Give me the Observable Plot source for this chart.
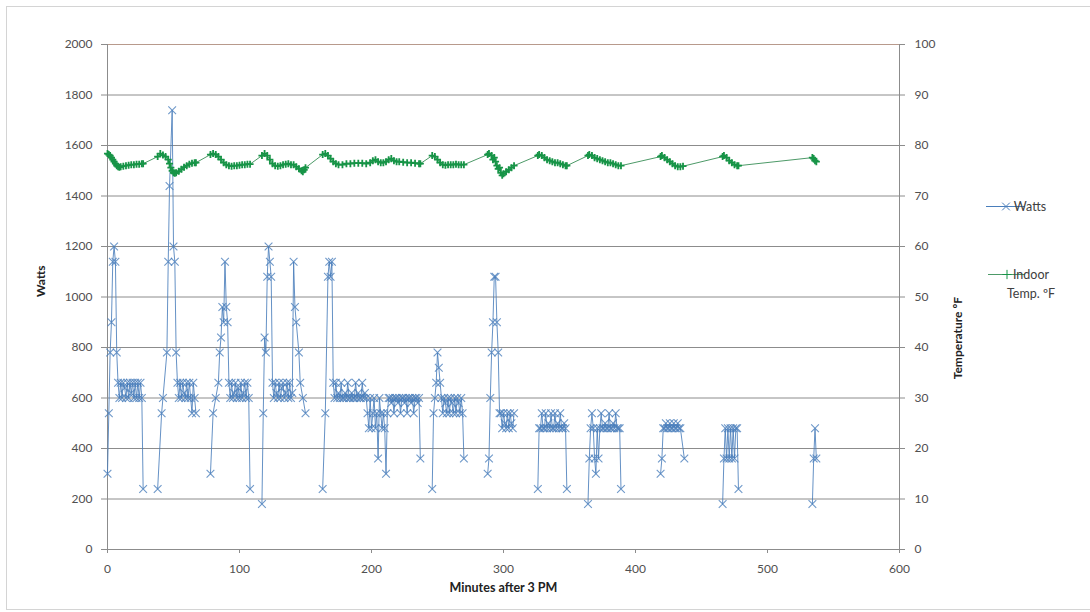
<!DOCTYPE html>
<html><head><meta charset="utf-8">
<script src="https://cdn.jsdelivr.net/npm/d3@7"></script>
<script src="https://cdn.jsdelivr.net/npm/@observablehq/plot@0.6"></script>
<style>html,body{margin:0;padding:0;background:#fff;overflow:hidden}#chart svg{display:block}</style>
</head><body><div id="chart"></div>
<script>
// ---- Data ----
const wattMinutes = [
  0,1,2,3,4,5,6,7,8,9,10,11,12,13,14,15,16,17,18,19,20,21,22,23,24,25,26,27,
  38,41,42,45,46,47,49,50,51,52,53,54,55,56,57,58,59,60,61,62,63,64,65,66,67,
  78,80,82,84,85,86,87,88,89,90,91,92,93,94,95,96,97,98,99,100,101,102,103,104,105,106,107,108,
  117,118,119,120,121,122,123,124,125,126,127,128,129,130,131,132,133,134,135,136,137,138,139,140,141,142,143,145,146,148,150,
  163,165,167,168,169,170,171,172,173,174,175,176,177,178,179,180,181,182,183,184,185,186,187,188,189,190,191,192,193,194,195,196,
  197,198,199,200,201,202,203,204,205,206,207,208,209,210,211,212,213,
  214,215,216,217,218,219,220,221,222,223,224,225,226,227,228,229,230,231,232,233,234,235,236,237,
  246,247,248,249,250,251,252,253,254,255,256,257,258,259,260,261,262,263,264,265,266,267,268,269,270,
  288,289,290,291,292,293,294,295,296,297,298,299,300,301,302,303,304,305,306,307,308,
  326,327,328,329,330,331,332,333,334,335,336,337,338,339,340,341,342,343,344,345,346,347,348,
  364,365,366,367,368,369,370,371,372,373,374,375,376,377,378,379,380,381,382,383,384,385,386,387,388,389,
  419,420,421,422,423,424,425,426,427,428,429,430,431,432,433,434,437,
  466,467,468,469,470,471,472,473,474,475,476,477,478,
  534,535,536,537
];
const wattValues = [
  300,540,780,900,1140,1200,1140,780,660,600,660,600,660,640,600,660,600,660,620,660,600,660,600,660,600,660,600,240,
  240,540,600,780,1140,1440,1740,1200,1140,780,660,600,660,600,660,620,600,660,600,660,600,540,660,600,540,
  300,540,600,660,780,840,960,900,1140,960,900,660,600,660,600,620,660,600,640,600,660,600,620,660,600,660,600,240,
  180,540,840,780,1080,1200,1140,1080,660,600,660,620,600,660,600,640,660,600,620,660,600,660,600,620,1140,960,900,780,660,600,540,
  240,540,1080,1140,1080,1140,660,600,660,600,620,600,660,600,600,620,600,660,600,600,620,600,600,660,600,620,600,600,660,600,620,600,
  540,480,600,480,540,600,480,540,360,600,540,480,540,480,300,540,600,
  600,580,600,540,600,600,580,600,540,600,600,580,600,540,600,600,580,600,540,600,600,580,600,360,
  240,540,600,660,780,720,660,600,540,600,580,540,600,540,600,580,540,600,540,600,580,540,600,540,360,
  300,360,600,780,900,1080,1080,900,780,540,540,480,540,500,480,540,480,540,500,480,540,
  240,480,480,540,480,480,540,480,500,480,540,480,480,540,480,500,480,540,480,480,500,480,240,
  180,360,480,540,480,360,300,480,360,480,540,480,480,500,480,480,540,480,480,500,480,540,480,480,480,240,
  300,360,480,480,500,480,480,500,480,480,500,480,480,500,480,480,360,
  180,360,480,360,480,360,480,360,480,360,480,480,240,
  180,360,480,360
];
// first minute of each heating/cooling run (the Watts line is broken between runs)
const wattRunStarts = [0,38,78,117,163,246,288,326,364,419,466,534];
const tempMinutes = [
  0,1,2,3,4,5,6,7,8,9,10,12,14,16,18,20,22,24,26,27,
  38,40,42,44,46,47,48,49,50,51,52,54,56,58,60,62,64,66,67,
  78,80,82,84,86,88,90,92,94,96,98,100,102,104,106,108,
  117,119,121,123,125,127,129,131,133,135,137,139,141,143,145,147,148,149,150,
  163,165,167,169,171,173,175,178,181,184,187,190,193,196,199,201,203,205,207,209,211,213,215,217,219,221,224,227,230,233,236,237,
  246,248,250,252,254,256,258,260,262,264,266,268,270,
  288,289,291,292,293,294,295,296,297,298,299,300,302,304,306,308,
  326,327,329,331,333,335,337,339,341,343,345,347,348,
  364,365,367,369,371,373,375,377,379,381,383,385,387,389,
  419,420,422,424,426,428,430,432,434,436,
  466,467,469,471,473,475,477,478,
  534,535,536,537
];
const tempValues = [
  78.4,78.2,78.0,77.6,77.2,76.8,76.4,76.0,75.8,75.7,75.8,75.9,76.0,76.1,76.2,76.2,76.3,76.3,76.4,76.4,
  77.8,78.4,78.1,77.8,77.2,76.4,75.6,75.0,74.6,74.5,74.6,74.9,75.3,75.7,76.0,76.3,76.5,76.6,76.6,
  78.2,78.4,78.2,77.8,77.2,76.6,76.2,76.0,75.9,76.0,76.0,76.1,76.2,76.2,76.3,76.3,
  78.0,78.4,78.0,77.2,76.4,76.0,75.9,76.0,76.2,76.3,76.4,76.2,76.2,75.8,75.4,75.0,74.8,75.2,75.6,
  78.2,78.4,78.0,77.4,76.8,76.4,76.2,76.2,76.4,76.4,76.5,76.5,76.5,76.4,76.6,77.0,77.2,76.8,76.6,76.6,76.8,77.2,77.4,77.0,76.8,76.8,76.7,76.6,76.6,76.5,76.4,76.4,
  78.0,77.8,77.2,76.6,76.2,76.1,76.2,76.2,76.2,76.3,76.2,76.2,76.2,
  78.2,78.4,78.0,77.2,77.6,76.8,76.0,75.4,75.6,74.6,74.1,74.4,74.8,75.2,75.6,76.0,
  78.0,78.2,78.0,77.6,77.2,77.0,76.8,76.6,76.6,76.4,76.2,76.0,76.0,
  78.0,78.2,78.0,77.6,77.4,77.2,77.0,76.8,76.6,76.6,76.4,76.2,76.0,76.0,
  77.8,78.0,77.6,77.2,76.8,76.4,76.0,75.8,75.8,75.9,
  77.8,78.0,77.6,77.0,76.6,76.2,76.0,76.0,
  77.6,77.4,77.0,76.8
];
const wattTicks = [0,200,400,600,800,1000,1200,1400,1600,1800,2000];
const tempTicks = [0,10,20,30,40,50,60,70,80,90,100];
const minuteTicks = [0,100,200,300,400,500,600];
const seriesNames = ["Watts", "Indoor", "Temp. ºF"];

// ---- Build ----
const wattMax = wattTicks[wattTicks.length - 1];
const tempMax = tempTicks[tempTicks.length - 1];
const k = wattMax / tempMax; // maps °F onto the left (watts) scale
const runOf = m => d3.bisectRight(wattRunStarts, m) - 1;
const watts = wattMinutes.map((m, i) => ({m, w: wattValues[i], run: runOf(m)}));
const temps = tempMinutes.map((m, i) => ({m, t: tempValues[i]}));

const blue = "#4a7ebb", green = "#179447", greenLine = "#4d9a68", grid = "#8c8c8c", font = "Lato, 'Open Sans', sans-serif";

const chart = Plot.plot({
  width: 1090, height: 612,
  marginLeft: 107, marginRight: 191, marginTop: 44, marginBottom: 63,
  x: {domain: [minuteTicks[0], minuteTicks[minuteTicks.length - 1]]},
  y: {domain: [wattTicks[0], wattMax]},
  style: {fontFamily: font, fontSize: "12px", color: "#595959", background: "#fff"},
  marks: [
    Plot.ruleY(wattTicks.filter(t => t < wattMax), {stroke: grid, strokeWidth: 1}),
    Plot.ruleY([wattMax], {stroke: "#b89a8c", strokeWidth: 1.2}),
    Plot.ruleX([minuteTicks[0], minuteTicks[minuteTicks.length - 1]], {stroke: grid}),
    Plot.axisY({ticks: wattTicks, tickFormat: d => String(d), tickSize: 6, tickPadding: 9, label: null, stroke: grid, fill: "#505050", fontSize: 12}),
    Plot.axisY({anchor: "right", ticks: tempTicks.map(t => t * k), tickFormat: d => String(d / k), tickSize: 5, tickPadding: 10, label: null, stroke: grid, fill: "#505050", fontSize: 12}),
    Plot.axisX({ticks: minuteTicks, tickFormat: d => String(d), tickSize: 4, tickPadding: 11, label: null, stroke: grid, fill: "#505050", fontSize: 12}),
    Plot.line(watts, {x: "m", y: "w", z: "run", stroke: blue, strokeWidth: 1, strokeOpacity: 0.85}),
    Plot.dot(watts, {x: "m", y: "w", symbol: "times", r: 3.6, stroke: blue, strokeWidth: 1.1, strokeOpacity: 0.8}),
    Plot.line(temps, {x: "m", y: d => d.t * k, stroke: greenLine, strokeWidth: 1}),
    Plot.dot(temps, {x: "m", y: d => d.t * k, symbol: "plus", r: 2.4, stroke: green, strokeWidth: 1.8}),
    Plot.text(["Watts"], {frameAnchor: "left", dx: -66, rotate: -90, fontWeight: "bold", fontSize: 12, fill: "#222"}),
    Plot.text(["Temperature ºF"], {frameAnchor: "right", dx: 59, rotate: -90, fontWeight: "bold", fontSize: 12, fill: "#222"}),
    Plot.text(["Minutes after 3 PM"], {frameAnchor: "bottom", dy: 42, fontWeight: "bold", fontSize: 12.5, fill: "#222"})
  ]
});

// chart-area border and legend
const svg = d3.select(chart);
svg.insert("rect", ":first-child").attr("x", 6.5).attr("y", 6.5).attr("width", 1100).attr("height", 603)
  .attr("fill", "#fff").attr("stroke", "#d4d4d4");
const lg = svg.append("g").attr("font-family", font).attr("font-size", 12.5).attr("fill", "#404040");
lg.append("line").attr("x1", 986).attr("x2", 1025).attr("y1", 206.5).attr("y2", 206.5).attr("stroke", blue);
lg.append("path").attr("d", d3.symbol(d3.symbolTimes, 40)()).attr("transform", "translate(1006,206.5)").attr("stroke", blue).attr("fill", "none");
lg.append("text").attr("x", 1030).attr("y", 207).attr("dy", "0.35em").text(seriesNames[0]);
lg.append("line").attr("x1", 988).attr("x2", 1025).attr("y1", 274.5).attr("y2", 274.5).attr("stroke", greenLine);
lg.append("path").attr("d", d3.symbol(d3.symbolPlus, 30)()).attr("transform", "translate(1007,274.5)").attr("stroke", green).attr("fill", "none");
lg.append("text").attr("x", 1031).attr("y", 275).attr("dy", "0.35em").text(seriesNames[1]);
lg.append("text").attr("x", 1031).attr("y", 294).attr("dy", "0.35em").text(seriesNames[2]);

document.getElementById("chart").appendChild(chart);
</script></body></html>
